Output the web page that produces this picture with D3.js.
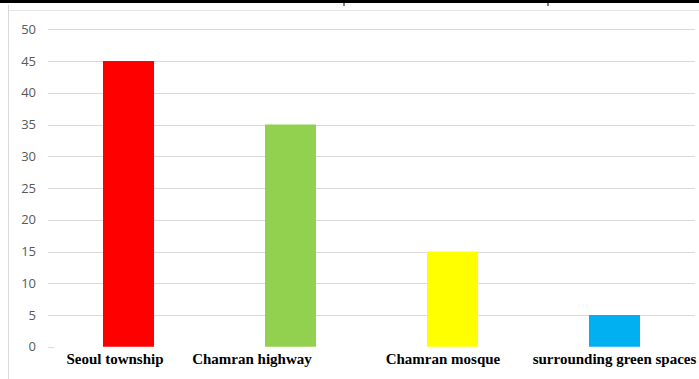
<!DOCTYPE html>
<html>
<head>
<meta charset="utf-8">
<script src="https://cdn.jsdelivr.net/npm/d3@7"></script>
<style>
  body { margin: 0; background: #fff; }
  svg { display: block; }
</style>
</head>
<body>
<div id="chart"></div>
<script>
// chart values
const categories = ["Seoul township", "Chamran highway", "Chamran mosque", "surrounding green spaces"];
const values = [45, 35, 15, 5];
const barColors = ["#ff0000", "#92d050", "#ffff00", "#00b0f0"];
const yTicks = [0, 5, 10, 15, 20, 25, 30, 35, 40, 45, 50];

const svgWidth = 699,
  svgHeight = 379;
let margin = { top: 29, right: 4, bottom: 32, left: 47.5 };

let svg = d3.select("#chart").append("svg").
  attr("width", svgWidth).
  attr("height", svgHeight);

// frame bits from the scanned page
svg.append("rect").attr("x", 0).attr("y", 0).attr("width", svgWidth).attr("height", 3).attr("fill", "#000");
[344, 548].forEach(px => svg.append("line").
  attr("x1", px).attr("x2", px).attr("y1", 0).attr("y2", 6).
  attr("stroke", "#000").attr("stroke-width", 1));
svg.append("line").attr("x1", 8).attr("x2", svgWidth).attr("y1", 10.5).attr("y2", 10.5).
  attr("stroke", "#e6e6e6");
svg.append("line").attr("x1", 8.5).attr("x2", 8.5).attr("y1", 5).attr("y2", svgHeight).
  attr("stroke", "#d9d9d9");

let x = d3.scaleBand().
  domain(categories).
  range([margin.left, 695.5]).
  paddingInner(0.685).
  paddingOuter(0.3425);

let y = d3.scaleLinear().
  domain([0, 50]).
  range([346.75, 29.25]);

// gridlines (the zero line is only a short stub in the original)
svg.append("g").
  selectAll("line").
  data(yTicks).
  join("line").
  attr("x1", 48).
  attr("x2", d => d === 0 ? 54 : 695).
  attr("y1", d => Math.round(y(d)) + 0.5).
  attr("y2", d => Math.round(y(d)) + 0.5).
  attr("stroke", "#d9d9d9").
  attr("stroke-width", 1);

// y axis labels
let yAxis = svg.append("g").
  attr("transform", `translate(36,0)`).
  call(d3.axisLeft(y).tickValues(yTicks).tickSize(0).tickPadding(0));
yAxis.select(".domain").remove();
yAxis.selectAll("text").
  attr("fill", "#595959").
  style("font-family", "'Open Sans', 'Liberation Sans', sans-serif").
  style("font-size", "13px");

// bars
svg.append("g").
  selectAll("rect").
  data(values).
  join("rect").
  attr("x", (d, i) => x(categories[i])).
  attr("y", d => y(d)).
  attr("width", x.bandwidth()).
  attr("height", d => y(0) - y(d)).
  attr("fill", (d, i) => barColors[i]);

// category labels, set a bit off-centre like in the source
const labelDx = [-13.5, -38.5, -9.5, 0];
svg.append("g").
  selectAll("text").
  data(categories).
  join("text").
  attr("x", (d, i) => x(d) + x.bandwidth() / 2 + labelDx[i]).
  attr("y", 364).
  attr("text-anchor", "middle").
  attr("fill", "#000").
  style("font-family", "'Liberation Serif', 'Times New Roman', serif").
  style("font-weight", "bold").
  style("font-size", "15px").
  text(d => d);
</script>
</body>
</html>
